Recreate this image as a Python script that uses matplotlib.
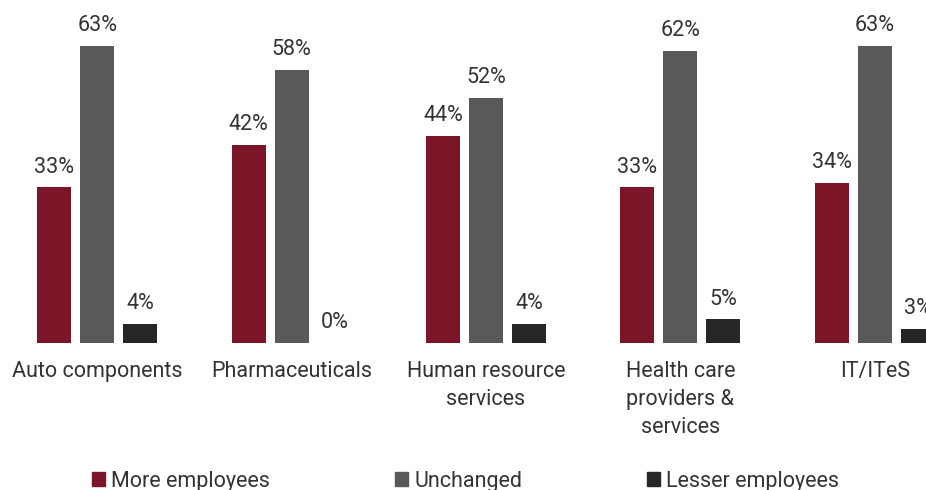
import numpy as np
import matplotlib
matplotlib.use("Agg")
import matplotlib.pyplot as plt
from matplotlib.patches import Patch

plt.rcParams['font.family'] = ['Roboto', 'DejaVu Sans']

categories = ["Auto components", "Pharmaceuticals", "Human resource\nservices",
              "Health care\nproviders &\nservices", "IT/ITeS"]
more_employees = [33, 42, 44, 33, 34]
unchanged = [63, 58, 52, 62, 63]
lesser_employees = [4, 0, 4, 5, 3]
series_names = ["More employees", "Unchanged", "Lesser employees"]
colors = ["#7B1628", "#595959", "#262626"]
text_color = "#333333"
fs = 15.5

W, H = 926, 490
fig = plt.figure(figsize=(W / 100, H / 100), dpi=100)
# axes wider than the figure so the last group is clipped like the reference
ax = fig.add_axes([0, 147 / H, 972 / W, 330 / H])

x = np.arange(len(categories))
width = 0.175
offset = 0.221
series = [more_employees, unchanged, lesser_employees]
for k, (vals, col) in enumerate(zip(series, colors)):
    bars = ax.bar(x + (k - 1) * offset, vals, width, color=col)
    for b, v in zip(bars, vals):
        ax.annotate(f"{v}%", (b.get_x() + b.get_width() / 2, v),
                    xytext=(0, 7), textcoords="offset points",
                    ha="center", va="bottom", fontsize=fs, color=text_color)

ax.set_xlim(-0.5, 4.5)
ax.set_ylim(0, 70)
ax.set_xticks(x)
ax.set_xticklabels(categories, fontsize=fs, color=text_color, linespacing=1.45)
ax.tick_params(axis="x", length=0, pad=13)
ax.set_yticks([])
for s in ax.spines.values():
    s.set_visible(False)

handles = [Patch(color=c, label=n) for c, n in zip(colors, series_names)]
fig.legend(handles=handles, loc="center", bbox_to_anchor=(465.5 / W, 9 / H),
           ncol=3, frameon=False, fontsize=fs, handlelength=0.6,
           handleheight=0.6, handletextpad=0.3, columnspacing=5.8,
           labelcolor=text_color)

fig.savefig("out.png", dpi=100)
